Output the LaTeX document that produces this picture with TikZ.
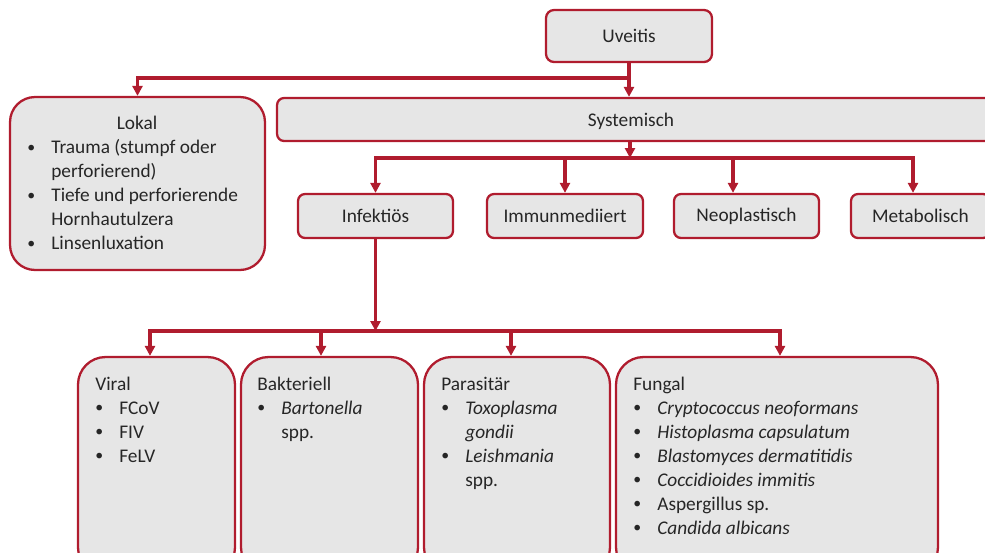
\documentclass[tikz,border=0pt]{standalone}
\usepackage{fontspec}
\setmainfont{Carlito}
\usetikzlibrary{arrows.meta}

\definecolor{uvred}{RGB}{176,28,46}
\definecolor{uvgray}{RGB}{230,230,230}
\definecolor{uvtext}{RGB}{38,38,38}

\newcommand{\itm}{\makebox[0.48cm][l]{\raisebox{0.15ex}{\small\textbullet}}}
\newcommand{\cnt}{\hspace*{0.48cm}}

\tikzset{
  catbox/.style={draw=uvred, fill=uvgray, line width=1.3pt, rounded corners=0.14cm, text=uvtext, minimum height=0.88cm},
  listbox/.style={draw=uvred, fill=uvgray, line width=1.3pt, rounded corners=0.55cm},
  listtext/.style={anchor=north west, align=left, inner sep=0pt, text=uvtext},
  conn/.style={draw=uvred, line width=1.8pt},
  arr/.style={conn, -{Triangle[length=0.2cm,width=0.2cm]}}
}

\begin{document}
\begin{tikzpicture}[x=0.02cm, y=-0.02cm, font=\fontsize{11}{13.66}\selectfont]
\useasboundingbox (0,0) rectangle (985,552);
\clip (0,0) rectangle (985,552);

% Top
\node[catbox, minimum width=3.32cm, minimum height=1.04cm, rounded corners=0.16cm] (uveitis) at (629,36) {Uveitis};

% Lokal / Systemisch
\node[listbox, rounded corners=0.5cm, minimum width=5.1cm, minimum height=3.46cm] (lokal) at (137.5,183.5) {};
\node[text=uvtext, anchor=base, inner sep=0pt] (lokaltitle) at (137,129.5) {Lokal};
\node[listtext] (lokallist) at (27,136.7) {\strut\itm Trauma (stumpf oder\\ \cnt perforierend)\\ \itm Tiefe und perforierende\\ \cnt Hornhautulzera\\ \itm Linsenluxation};

\node[catbox, minimum width=14.5cm, minimum height=0.86cm] (systemisch) at (639.5,119.5) {};
\node[text=uvtext] (systemischlabel) at (631,121) {Systemisch};

% Systemic categories
\node[catbox, minimum width=3.1cm] (infektios) at (375.5,216) {Infektiös};
\node[catbox, minimum width=3.12cm] (immun) at (565,216) {Immunmediiert};
\node[catbox, minimum width=2.9cm] (neoplast) at (746.5,216) {Neoplastisch};
\node[catbox, minimum width=2.78cm] (metabol) at (920.5,216) {Metabolisch};

% Infectious groups
\node[listbox, minimum width=3.14cm, minimum height=4.36cm] (viral) at (156.5,466) {};
\node[listbox, minimum width=3.54cm, minimum height=4.36cm] (bakt) at (329.5,466) {};
\node[listbox, minimum width=3.72cm, minimum height=4.36cm] (parasit) at (517,466) {};
\node[listbox, minimum width=6.44cm, minimum height=4.36cm] (fungal) at (777,466) {};

\node[listtext] (viraltext) at (95,373.2) {\strut Viral\\ \itm FCoV\\ \itm FIV\\ \itm FeLV};
\node[listtext] (bakttext) at (257,373.2) {\strut Bakteriell\\ \itm \textit{Bartonella}\\ \cnt spp.};
\node[listtext] (parasittext) at (441,373.2) {\strut Parasitär\\ \itm \textit{Toxoplasma}\\ \cnt \textit{gondii}\\ \itm \textit{Leishmania}\\ \cnt spp.};
\node[listtext] (fungaltext) at (633,373.2) {\strut Fungal\\ \itm \textit{Cryptococcus neoformans}\\ \itm \textit{Histoplasma capsulatum}\\ \itm \textit{Blastomyces dermatitidis}\\ \itm \textit{Coccidioides immitis}\\ \itm Aspergillus sp.\\ \itm \textit{Candida albicans}};

% Junctions
\coordinate (j1) at (629,78);
\coordinate (j2) at (630,158);
\coordinate (j3) at (375.5,331);

% Arrows
\draw[arr] (uveitis) -- (uveitis |- systemisch.north);
\draw[arr] (j1) -| (lokal);
\draw[arr] (systemisch.south -| j2) -- (j2);
\draw[arr] (j2) -| (infektios);
\draw[arr] (j2) -| (immun);
\draw[arr] (j2) -| ([xshift=-0.27cm]neoplast.north);
\draw[arr] (j2) -| ([xshift=-0.15cm]metabol.north);
\draw[arr] (infektios) -- (j3);
\draw[arr] (j3) -| ([xshift=-0.13cm]viral.north);
\draw[arr] (j3) -| ([xshift=-0.17cm]bakt.north);
\draw[arr] (j3) -| ([xshift=-0.12cm]parasit.north);
\draw[arr] (j3) -| ([xshift=0.06cm]fungal.north);

\end{tikzpicture}
\end{document}
